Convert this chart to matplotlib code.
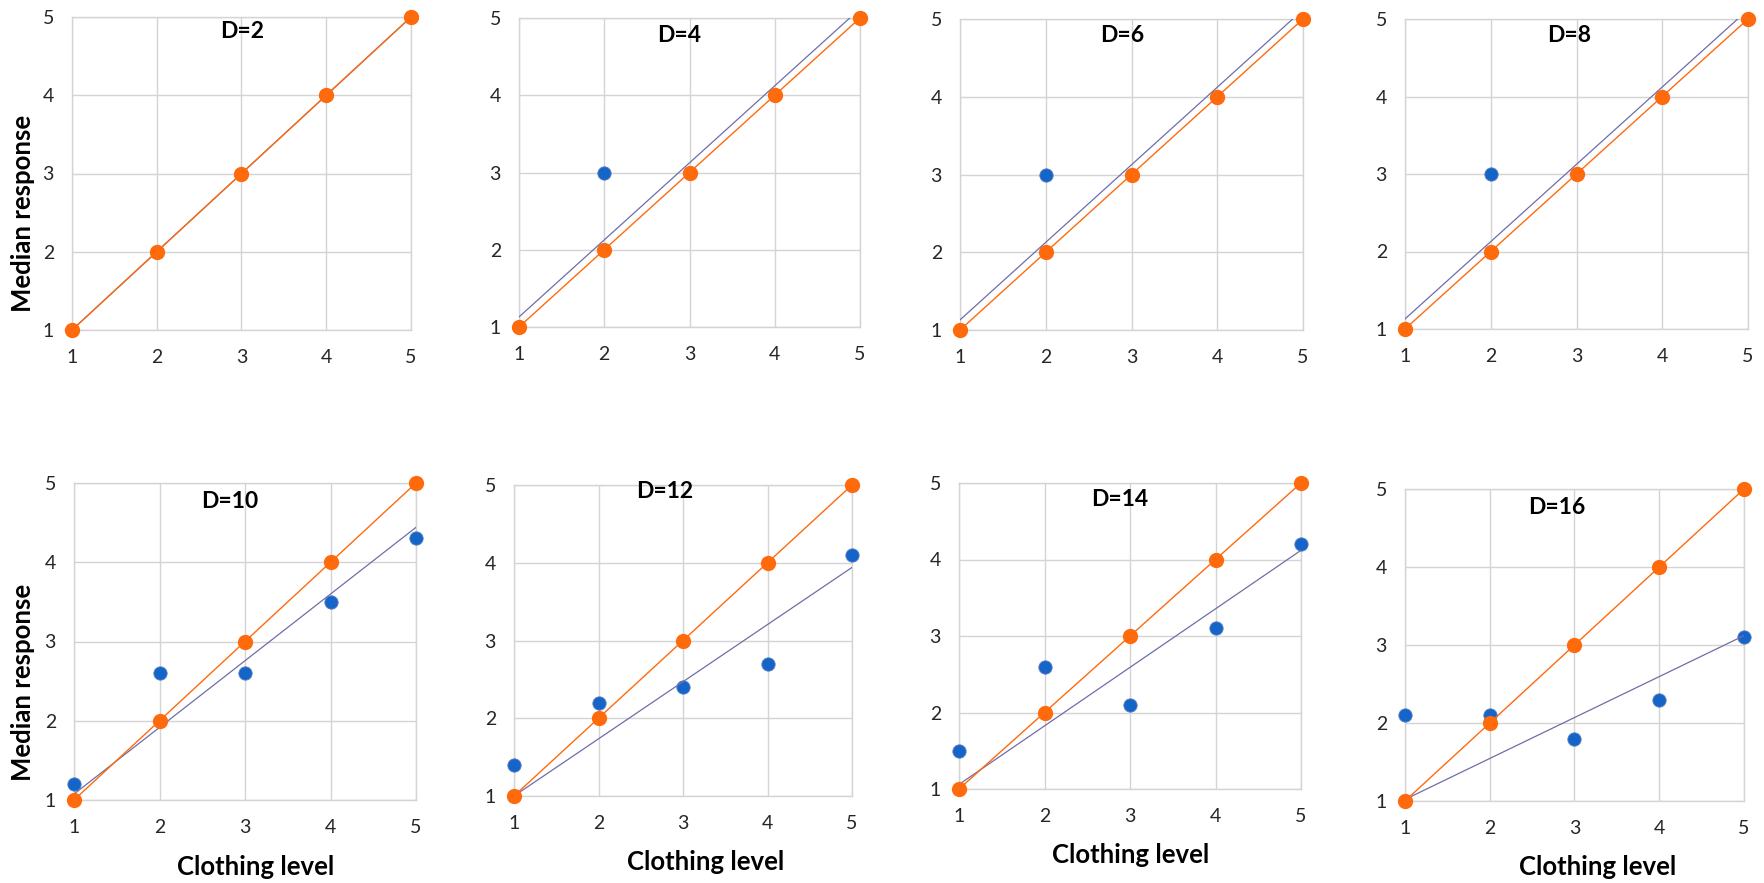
import matplotlib
matplotlib.use("Agg")
import matplotlib.pyplot as plt

# Clothing levels on the x axis
levels = [1, 2, 3, 4, 5]
panel_titles = ["D=2", "D=4", "D=6", "D=8", "D=10", "D=12", "D=14", "D=16"]

# Reference responses (identity) and observed median responses per distance
expected = [1, 2, 3, 4, 5]
observed_d2 = [1, 2, 3, 4, 5]
observed_d4 = [1, 3, 3, 4, 5]
observed_d6 = [1, 3, 3, 4, 5]
observed_d8 = [1, 3, 3, 4, 5]
observed_d10 = [1.2, 2.6, 2.6, 3.5, 4.3]
observed_d12 = [1.4, 2.2, 2.4, 2.7, 4.1]
observed_d14 = [1.5, 2.6, 2.1, 3.1, 4.2]
observed_d16 = [2.1, 2.1, 1.8, 2.3, 3.1]
observed = [observed_d2, observed_d4, observed_d6, observed_d8,
            observed_d10, observed_d12, observed_d14, observed_d16]

# Linear trendline of the observed series, given at clothing level 1 and 5
trend_at_1 = [1.0, 1.13, 1.13, 1.13, 1.075, 1.0, 1.06, 1.02]
trend_at_5 = [5.0, 5.12, 5.12, 5.12, 4.44, 3.94, 4.12, 3.12]

tick_values = [1, 2, 3, 4, 5]

W, H = 1764, 883
# Plot area boxes in pixels: left, top, right, bottom
boxes = [
    (72, 17, 411, 330), (519, 18, 860, 327), (960, 19, 1303, 330), (1405, 19, 1748, 329),
    (74, 483, 416, 800), (514, 485, 852, 796), (959, 483, 1301, 789), (1405, 489, 1744, 801),
]
title_xy = [(242, 32), (679, 36), (1122, 36), (1569, 36),
            (230, 501), (665, 492), (1120, 499), (1557, 508)]
xlabel_xy = {4: (256, 867), 5: (706, 862), 6: (1131, 855), 7: (1598, 867)}
ylabel_xy = {0: (23, 213), 4: (23, 682)}

ORANGE = "#FF6A0D"
BLUE = "#1565C8"
TREND = "#6E6EA8"
GRID = "#D4D4D4"
FONT = ["Lato", "DejaVu Sans"]

fig = plt.figure(figsize=(W / 100, H / 100), dpi=100)
fig.patch.set_facecolor("white")

for i, (l, t, r, b) in enumerate(boxes):
    ax = fig.add_axes([l / W, 1 - b / H, (r - l) / W, (b - t) / H])
    ax.set_xlim(1, 5)
    ax.set_ylim(1, 5)
    ax.set_xticks(tick_values)
    ax.set_yticks(tick_values)
    ax.set_xticklabels([str(v) for v in tick_values], fontfamily=FONT, fontsize=14, color="#262626")
    ax.set_yticklabels([str(v) for v in tick_values], fontfamily=FONT, fontsize=14, color="#262626")
    ax.tick_params(length=0, pad=14)
    ax.tick_params(axis="y", pad=13)
    ax.grid(True, color=GRID, linewidth=1.0)
    ax.set_axisbelow(True)
    for sp in ax.spines.values():
        sp.set_color(GRID)
        sp.set_linewidth(1.0)

    ax.plot(levels, observed[i], linestyle="none", marker="o", markersize=9.6,
            markerfacecolor=BLUE, markeredgecolor="#5a7fc0", markeredgewidth=0.6,
            clip_on=False, zorder=3)
    ax.plot([levels[0], levels[-1]], [trend_at_1[i], trend_at_5[i]],
            color=TREND, linewidth=0.9, zorder=4)
    ax.plot(levels, expected, color=ORANGE, linewidth=1.0, marker="o",
            markersize=11, markerfacecolor=ORANGE, markeredgecolor=ORANGE,
            markeredgewidth=0, clip_on=False, zorder=5)

    tx, ty = title_xy[i]
    fig.text(tx / W, 1 - ty / H, panel_titles[i], ha="center", va="center",
             fontfamily=FONT, fontweight="bold", fontsize=16.5, color="black")

for i, (x, y) in xlabel_xy.items():
    fig.text(x / W, 1 - y / H, "Clothing level", ha="center", va="center",
             fontfamily=FONT, fontweight="bold", fontsize=18.5, color="black")
for i, (x, y) in ylabel_xy.items():
    fig.text(x / W, 1 - y / H, "Median response", ha="center", va="center",
             rotation=90, fontfamily=FONT, fontweight="bold", fontsize=18.5, color="black")

fig.savefig("out.png", dpi=100, facecolor="white")
